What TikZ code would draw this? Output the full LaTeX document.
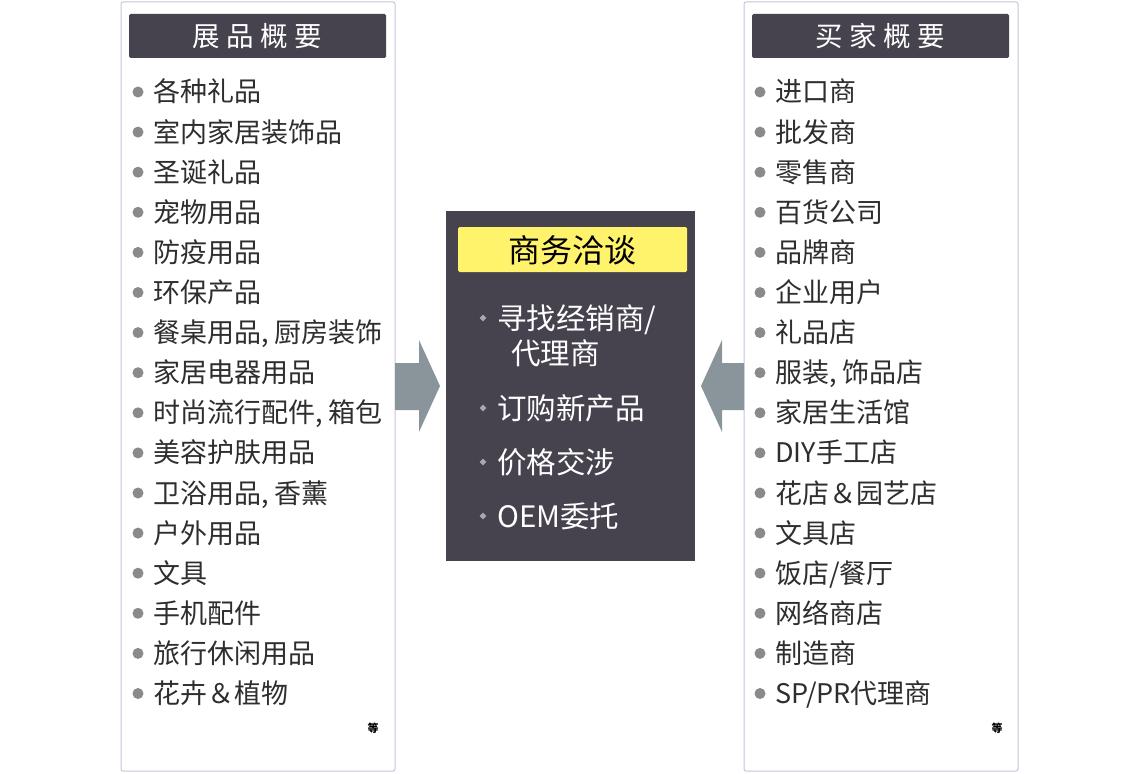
\documentclass[tikz,border=0pt]{standalone}
\usepackage{fontspec}
\setmainfont{Noto Sans CJK SC}
\usetikzlibrary{shapes.geometric}
\definecolor{panelline}{HTML}{C9C3DC}
\definecolor{headfill}{HTML}{46434F}
\definecolor{itemtext}{HTML}{2E2E2E}
\definecolor{bulletc}{HTML}{8A8A8A}
\definecolor{arrowc}{HTML}{8A959B}
\definecolor{yellowc}{HTML}{FFF36B}
\definecolor{cbullet}{HTML}{A8A8AE}
\tikzset{
  panel/.style={draw=panelline, line width=1pt, fill=white, rounded corners=2pt},
  headbox/.style={fill=headfill, rounded corners=1.5pt},
  headtext/.style={text=white, font=\fontsize{27.5}{30}\selectfont, anchor=base, inner sep=0pt},
  item/.style={text=itemtext, font=\fontsize{27}{30}\selectfont, anchor=base west, inner sep=0pt},
  dot/.style={circle, fill=bulletc, minimum size=11pt, inner sep=0pt},
  etc/.style={text=black, font=\fontsize{11}{12}\selectfont\bfseries, anchor=base, inner sep=0pt},
  ctext/.style={text=white, font=\fontsize{29.5}{32}\selectfont, anchor=base west, inner sep=0pt},
  cdot/.style={diamond, fill=cbullet, minimum size=7pt, inner sep=0pt},
  bigarrow/.style={fill=arrowc}
}
\begin{document}
\begin{tikzpicture}[x=1pt,y=-1pt]
\useasboundingbox (0,0) rectangle (1139,773);
% panels
\draw[panel] (121,2) rectangle (395,771);
\draw[panel] (744,2) rectangle (1018,771);
% headers
\fill[headbox] (129,14) rectangle (386,58);
\fill[headbox] (752,14) rectangle (1009,58);
\node[headtext] (lhead) at (257.5,47) {展\hspace{6.5pt}品\hspace{6.5pt}概\hspace{6.5pt}要};
\node[headtext] (rhead) at (880.5,47) {买\hspace{6.5pt}家\hspace{6.5pt}概\hspace{6.5pt}要};
% left items
\foreach \t [count=\i from 0] in {各种礼品,室内家居装饰品,圣诞礼品,宠物用品,防疫用品,环保产品,{餐桌用品, 厨房装饰},家居电器用品,{时尚流行配件, 箱包},美容护肤用品,{卫浴用品, 香薰},户外用品,文具,手机配件,旅行休闲用品,花卉＆植物}{
  \node[dot] (ld\i) at (138,{92+40.1*\i}) {};
  \node[item] (l\i) at (153,{92+40.1*\i+10}) {\t};
}
% right items
\foreach \t [count=\i from 0] in {进口商,批发商,零售商,百货公司,品牌商,企业用户,礼品店,{服装, 饰品店},家居生活馆,DIY手工店,花店＆园艺店,文具店,饭店/餐厅,网络商店,制造商,SP/PR代理商}{
  \node[dot] (rd\i) at (760,{92+40.1*\i}) {};
  \node[item] (r\i) at (775,{92+40.1*\i+10}) {\t};
}
\node[etc] (letc) at (373,732) {等};
\node[etc] (retc) at (997,732) {等};
% center box
\fill[fill=headfill] (446,211) rectangle (695,561);
\fill[fill=yellowc, rounded corners=1.5pt] (458,227) rectangle (687,272);
\node[text=black, font=\fontsize{32}{34}\selectfont, anchor=base, inner sep=0pt] (chead) at (572.5,262) {商务洽谈};
\node[cdot] (cd1) at (483,318) {};
\node[ctext] (c1) at (497,329) {寻找经销商/};
\node[ctext] (c1b) at (511,364) {代理商};
\node[cdot] (cd2) at (483,408) {};
\node[ctext] (c2) at (497,419) {订购新产品};
\node[cdot] (cd3) at (483,462) {};
\node[ctext] (c3) at (497,473) {价格交涉};
\node[cdot] (cd4) at (483,516) {};
\node[ctext] (c4) at (497,527) {OEM委托};
% arrows
\fill[bigarrow] (395,363) -- (419,363) -- (419,340) -- (440,386) -- (419,432) -- (419,410) -- (395,410) -- cycle;
\fill[bigarrow] (744,363) -- (722,363) -- (722,340) -- (701,386) -- (722,432) -- (722,410) -- (744,410) -- cycle;
\end{tikzpicture}
\end{document}
